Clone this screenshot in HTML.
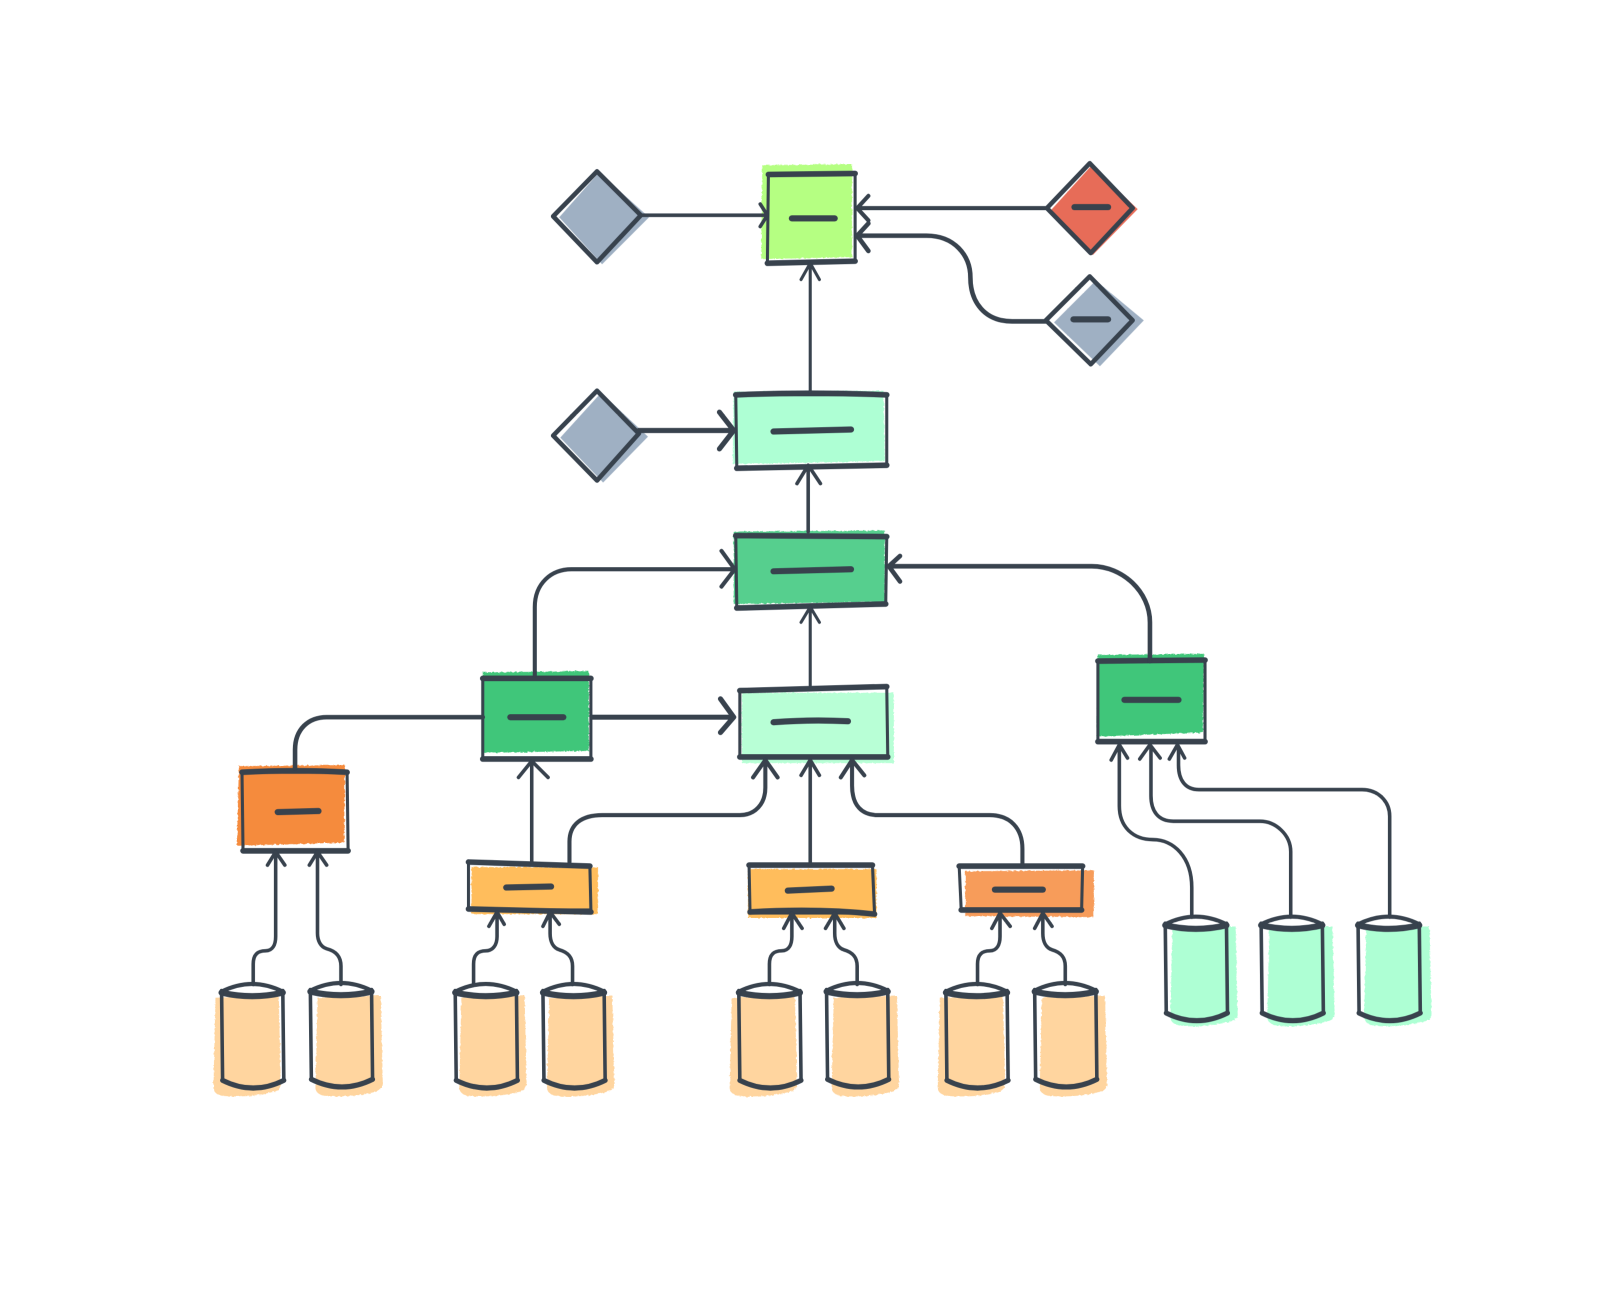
<!DOCTYPE html>
<html><head><meta charset="utf-8"><title>Diagram</title>
<style>html,body{margin:0;padding:0;background:#fff}svg{display:block}</style></head>
<body>
<svg xmlns="http://www.w3.org/2000/svg" width="1600" height="1316" viewBox="0 0 1568 1290">
<defs>
<filter id="r" x="-5%" y="-5%" width="110%" height="110%"><feTurbulence type="fractalNoise" baseFrequency="0.35" numOctaves="2" seed="3"/><feDisplacementMap in="SourceGraphic" scale="2.5"/></filter>
<filter id="b" x="-2%" y="-2%" width="104%" height="104%"><feGaussianBlur stdDeviation="0.35"/></filter>
<g id="cyl" fill="none" stroke="#37424e" stroke-linecap="round" stroke-linejoin="round">
<path d="M1,9 Q31,-6 61,9" stroke-width="4"/>
<path d="M1,10 Q31,17 61,10" stroke-width="6"/>
<path d="M1,8 L2,96 M61,8 L62,96" stroke-width="3.5"/>
<path d="M2,96 Q32,111 62,96" stroke-width="5"/>
</g>
<path id="co" d="M2,6 L64,4 L66,90 Q66,96 60,98 Q33,105 8,102 Q0,100 0,94 Z" fill="#ffd59f"/>
<path id="cg" d="M2,4 L64,3 L66,90 Q66,94 60,96 Q33,103 8,100 Q0,98 0,92 Z" fill="#aeffd4"/>
</defs>

<g filter="url(#r)">
<polygon points="747,162 835,161 835,252 746,254" fill="#b5ff82"/>
<polygon points="719,384 866,383 867,452 718,455" fill="#aeffd4"/>
<polygon points="719,521 867,520 867,590 719,592" fill="#57cf8e"/>
<polygon points="473,659 577,658 577,736 473,738" fill="#40c67a"/>
<polygon points="727,679 876,679 876,748 727,748" fill="#b8ffd6"/>
<polygon points="1076,642 1180,641 1179,718 1075,722" fill="#40c67a"/>
<polygon points="234,751 338,750 337,826 232,829" fill="#f58b3e"/>
<polygon points="462,850 586,850 586,896 462,896" fill="#ffbd5c"/>
<polygon points="733,852 859,852 859,900 733,900" fill="#ffbd5c"/>
<polygon points="946,854 1072,853 1072,899 946,898" fill="#f79c5a"/>
<use href="#co" x="209" y="972"/><use href="#co" x="309" y="972"/>
<use href="#co" x="450" y="972"/><use href="#co" x="536" y="972"/>
<use href="#co" x="715" y="972"/><use href="#co" x="815" y="972"/>
<use href="#co" x="919" y="972"/><use href="#co" x="1019" y="972"/>
<use href="#cg" x="1147" y="905"/><use href="#cg" x="1242" y="905"/><use href="#cg" x="1337" y="905"/>
</g>
<polygon points="587,169 636,213 590,259 548,213" fill="#9fb0c3"/>
<polygon points="589,385 635,428 591,473 549,429" fill="#9fb0c3"/>
<polygon points="1070,162 1115,205 1071,250 1030,206" fill="#e76c58"/>
<polygon points="1074,275 1121,314 1078,359 1033,316" fill="#9fb0c3"/>

<g filter="url(#b)">
<g fill="none" stroke="#37424e" stroke-linecap="round" stroke-linejoin="round">
<g stroke-width="4.5">
<polygon points="585,168 628,211 585,257 542,212"/>
<polygon points="585,383 626,425 585,471 542,427"/>
<polygon points="1068,160 1110,204 1069,248 1026,204"/>
<polygon points="1068,271 1110,314 1069,357 1025,314"/>
</g>
<g stroke-width="3">
<polygon points="753,171 838,170 838,256 752,258"/>
<polygon points="721,387 869,387 869,456 722,459"/>
<polygon points="721,525 869,526 868,592 722,596"/>
<polygon points="473,665 579,665 579,744 473,744"/>
<polygon points="725,676 869,673 870,742 725,742"/>
<polygon points="1076,648 1181,647 1181,726 1076,727"/>
<polygon points="237,757 340,757 341,833 238,834"/>
<polygon points="459,845 578,849 579,892 459,892"/>
<polygon points="734,848 855,848 857,895 735,895"/>
<polygon points="940,849 1061,849 1060,893 942,892"/>
</g>
<g stroke-width="5.5">
<path d="M753,171 L838,170 M752,258 L838,256"/>
<path d="M721,387 Q795,384 869,387 M722,459 L869,456"/>
<path d="M721,525 L869,526 M722,596 L868,592"/>
<path d="M473,665 H579 M473,744 H579"/>
<path d="M725,677 L869,673 M725,742 H870"/>
<path d="M1076,648 L1181,647 M1076,727 H1181"/>
<path d="M237,757 Q290,754 340,757 M238,834 H341"/>
<path d="M459,845 L578,849 M459,891 L579,894"/>
<path d="M734,848 H855 M735,894 Q800,890 857,896"/>
<path d="M940,849 H1061 M942,892 H1060"/>
</g>
<g stroke-width="6">
<path d="M776,214 L818,214"/>
<path d="M1053,203 H1086"/>
<path d="M1052,313 H1086"/>
<path d="M758,423 L834,421"/>
<path d="M758,560 L834,558"/>
<path d="M500,703 H552"/>
<path d="M758,708 Q795,705 831,707"/>
<path d="M1102,686 H1155"/>
<path d="M272,796 L312,795"/>
<path d="M496,870 L540,869"/>
<path d="M772,873 L815,871"/>
<path d="M975,872 H1022"/>
</g>
<g stroke-width="3.5">
<path d="M628,211 H750 M745,200 L752,211 L745,222"/>
<path d="M794,384 V260 M785,274 L794,258 L803,274" stroke-width="3"/>
<path d="M792,521 V458 M781,474 L792,456 L804,474"/>
<path d="M794,672 V597 M785,610 L794,595 L803,610" stroke-width="3"/>
<path d="M521,845 V748 M508,762 L521,746 L537,762"/>
<path d="M794,848 V747 M785,760 L794,745 L803,760"/>
</g>
<g stroke-width="4">
<path d="M1026,204 H842 M851,192 L840,204 L851,216"/>
<path d="M524,662 V595 C524,572 540,558 560,558 H718 M707,540 L720,558 L707,575"/>
<path d="M558,845 V825 C558,808 570,799 590,799 H725 C740,799 750,788 750,772 V747 M738,762 L750,745 L762,762"/>
<path d="M1002,849 V832 C1002,812 990,799 970,799 H860 C845,799 835,790 835,770 V747 M824,762 L835,745 L847,760"/>
</g>
<g stroke-width="4.5">
<path d="M1025,315 H992 C965,315 951,296 951,272 C951,250 935,231 908,231 H842 M851,219 L840,231 L851,246"/>
<path d="M1127,648 V610 C1127,580 1100,555 1070,555 H873 M882,545 L871,555 L882,570"/>
<path d="M473,703 H320 C302,703 289,715 289,735 V753"/>
</g>
<g stroke-width="5">
<path d="M626,422 H717 M705,404 L719,422 L705,440"/>
<path d="M580,703 H717 M706,685 L719,703 L706,718"/>
</g>
<g stroke-width="3.5">
<path d="M248,965 V945 C248,935 253,932 260,932 C267,932 270,926 270,918 V837 M262,848 L270,835 L279,848"/>
<path d="M334,965 V947 C334,937 328,932 320,930 C314,928 311,922 311,915 V837 M303,848 L311,835 L320,848"/>
<path d="M464,965 V945 C464,935 469,932 476,932 C483,932 487,926 487,918 V896 M479,908 L487,894 L494,906"/>
<path d="M561,965 V947 C561,937 555,933 548,931 C542,929 539,923 539,915 V896 M532,908 L539,894 L548,906"/>
<path d="M754,965 V945 C754,935 759,932 766,932 C773,932 776,926 776,918 V896 M768,910 L776,895 L786,910"/>
<path d="M840,965 V947 C840,937 834,933 827,931 C821,929 818,923 818,915 V896 M809,910 L818,895 L827,910"/>
<path d="M958,965 V945 C958,935 963,932 970,932 C977,932 980,926 980,918 V896 M972,910 L980,895 L990,908"/>
<path d="M1044,965 V947 C1044,937 1038,933 1031,931 C1025,929 1022,923 1022,915 V896 M1014,910 L1022,895 L1031,908"/>
<path d="M1168,899 V870 C1168,840 1150,823 1130,823 C1110,823 1097,810 1097,790 V732 M1089,745 L1097,730 L1105,743"/>
<path d="M1265,899 V835 C1265,818 1250,805 1235,805 H1150 C1135,805 1128,795 1128,780 V732 M1117,744 L1127,730 L1137,743"/>
<path d="M1362,899 V800 C1362,785 1350,774 1335,774 H1175 C1162,774 1155,765 1155,750 V732 M1146,744 L1154,730 L1161,743"/>
</g>
</g>
<use href="#cyl" x="216" y="963"/><use href="#cyl" x="303" y="962"/>
<use href="#cyl" x="445" y="963"/><use href="#cyl" x="531" y="963"/>
<use href="#cyl" x="723" y="963"/><use href="#cyl" x="809" y="962"/>
<use href="#cyl" x="926" y="963"/><use href="#cyl" x="1013" y="962"/>
<use href="#cyl" x="1141" y="897"/><use href="#cyl" x="1235" y="897"/><use href="#cyl" x="1330" y="897"/>
</g>
</svg>
</body></html>
